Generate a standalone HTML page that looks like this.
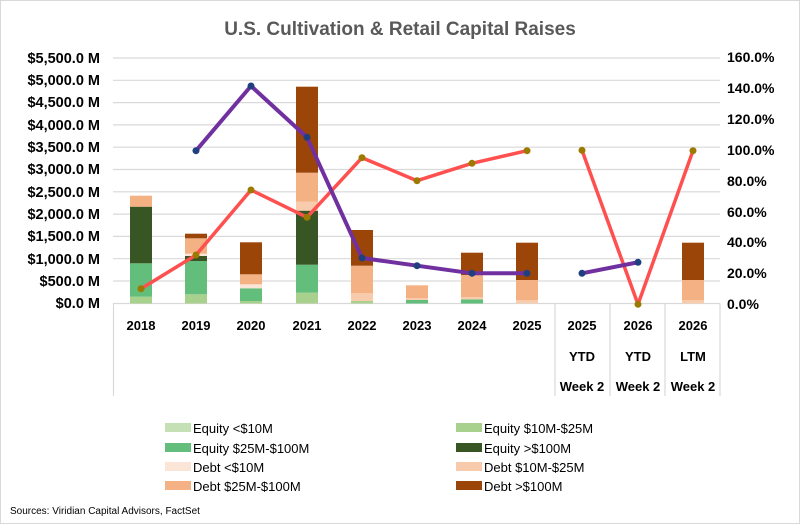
<!DOCTYPE html>
<html><head><meta charset="utf-8"><style>
body{margin:0;background:#fff}
svg{display:block;font-family:"Liberation Sans",Arial,sans-serif}
</style></head><body>
<svg width="800" height="524" viewBox="0 0 800 524" xmlns="http://www.w3.org/2000/svg">
<rect x="0.5" y="0.5" width="799" height="523" fill="#fff" stroke="#d9d9d9"/>
<text x="400" y="35" text-anchor="middle" font-size="19" font-weight="bold" fill="#595959">U.S. Cultivation &amp; Retail Capital Raises</text>
<g stroke="#d9d9d9" stroke-width="1.2">
<line x1="113" x2="720" y1="58" y2="58"/><line x1="113" x2="720" y1="80.3" y2="80.3"/><line x1="113" x2="720" y1="102.6" y2="102.6"/><line x1="113" x2="720" y1="124.9" y2="124.9"/><line x1="113" x2="720" y1="147.2" y2="147.2"/><line x1="113" x2="720" y1="169.5" y2="169.5"/><line x1="113" x2="720" y1="191.8" y2="191.8"/><line x1="113" x2="720" y1="214.1" y2="214.1"/><line x1="113" x2="720" y1="236.4" y2="236.4"/><line x1="113" x2="720" y1="258.7" y2="258.7"/><line x1="113" x2="720" y1="281" y2="281"/>
<line x1="113" x2="720" y1="303.5" y2="303.5"/>
<line x1="113.5" x2="113.5" y1="303.5" y2="396"/><line x1="555" x2="555" y1="303.5" y2="396"/><line x1="610" x2="610" y1="303.5" y2="396"/><line x1="665" x2="665" y1="303.5" y2="396"/><line x1="720" x2="720" y1="303.5" y2="396"/>
</g>
<g font-size="14.5" font-weight="bold" fill="#000" text-anchor="end">
<text x="100" y="63">$5,500.0 M</text><text x="100" y="85">$5,000.0 M</text><text x="100" y="107">$4,500.0 M</text><text x="100" y="130">$4,000.0 M</text><text x="100" y="152">$3,500.0 M</text><text x="100" y="174">$3,000.0 M</text><text x="100" y="197">$2,500.0 M</text><text x="100" y="219">$2,000.0 M</text><text x="100" y="241">$1,500.0 M</text><text x="100" y="264">$1,000.0 M</text><text x="100" y="286">$500.0 M</text><text x="100" y="308">$0.0 M</text>
</g>
<g font-size="14" font-weight="bold" fill="#000">
<text x="727" y="62">160.0%</text><text x="727" y="93">140.0%</text><text x="727" y="124">120.0%</text><text x="727" y="155">100.0%</text><text x="727" y="186">80.0%</text><text x="727" y="217">60.0%</text><text x="727" y="247">40.0%</text><text x="727" y="278">20.0%</text><text x="727" y="309">0.0%</text>
</g>
<g font-size="13" font-weight="bold" fill="#000" text-anchor="middle">
<text x="141" y="330">2018</text><text x="196" y="330">2019</text><text x="251" y="330">2020</text><text x="307" y="330">2021</text><text x="362" y="330">2022</text><text x="417" y="330">2023</text><text x="472" y="330">2024</text><text x="527" y="330">2025</text>
<text x="582" y="330">2025</text><text x="638" y="330">2026</text><text x="693" y="330">2026</text>
<text x="582" y="361">YTD</text><text x="638" y="361">YTD</text><text x="693" y="361">LTM</text>
<text x="582" y="391">Week 2</text><text x="638" y="391">Week 2</text><text x="693" y="391">Week 2</text>
</g>
<g>
<rect x="130" y="296.7" width="22" height="6.8" fill="#a9d18e"/>
<rect x="130" y="263.3" width="22" height="33.4" fill="#63be7b"/>
<rect x="130" y="206.7" width="22" height="56.6" fill="#375623"/>
<rect x="130" y="195.7" width="22" height="11" fill="#f4b183"/>
<rect x="185" y="294.3" width="22" height="9.2" fill="#a9d18e"/>
<rect x="185" y="261" width="22" height="33.3" fill="#63be7b"/>
<rect x="185" y="256" width="22" height="5" fill="#375623"/>
<rect x="185" y="253.7" width="22" height="2.3" fill="#fbe5d6"/>
<rect x="185" y="238.3" width="22" height="15.4" fill="#f4b183"/>
<rect x="185" y="233.7" width="22" height="4.6" fill="#9c4509"/>
<rect x="240" y="301" width="22" height="2.5" fill="#a9d18e"/>
<rect x="240" y="288.3" width="22" height="12.7" fill="#63be7b"/>
<rect x="240" y="284.3" width="22" height="4" fill="#fbe5d6"/>
<rect x="240" y="274.3" width="22" height="10" fill="#f4b183"/>
<rect x="240" y="242.3" width="22" height="32" fill="#9c4509"/>
<rect x="296" y="292.7" width="22" height="10.8" fill="#a9d18e"/>
<rect x="296" y="264.7" width="22" height="28" fill="#63be7b"/>
<rect x="296" y="210.7" width="22" height="54" fill="#375623"/>
<rect x="296" y="201.7" width="22" height="9" fill="#f8cbad"/>
<rect x="296" y="172.7" width="22" height="29" fill="#f4b183"/>
<rect x="296" y="86.7" width="22" height="86" fill="#9c4509"/>
<rect x="351" y="301" width="22" height="2.5" fill="#a9d18e"/>
<rect x="351" y="293.3" width="22" height="7.7" fill="#f8cbad"/>
<rect x="351" y="265.7" width="22" height="27.6" fill="#f4b183"/>
<rect x="351" y="230" width="22" height="35.7" fill="#9c4509"/>
<rect x="406" y="300" width="22" height="3.5" fill="#63be7b"/>
<rect x="406" y="298" width="22" height="2" fill="#f8cbad"/>
<rect x="406" y="285.3" width="22" height="12.7" fill="#f4b183"/>
<rect x="461" y="299.3" width="22" height="4.2" fill="#63be7b"/>
<rect x="461" y="297" width="22" height="2.3" fill="#f8cbad"/>
<rect x="461" y="275" width="22" height="22" fill="#f4b183"/>
<rect x="461" y="252.7" width="22" height="22.3" fill="#9c4509"/>
<rect x="516" y="300" width="22" height="3.5" fill="#f8cbad"/>
<rect x="516" y="280" width="22" height="20" fill="#f4b183"/>
<rect x="516" y="242.7" width="22" height="37.3" fill="#9c4509"/>
<rect x="682" y="300" width="22" height="3.5" fill="#f8cbad"/>
<rect x="682" y="280" width="22" height="20" fill="#f4b183"/>
<rect x="682" y="242.7" width="22" height="37.3" fill="#9c4509"/>
</g>
<polyline fill="none" stroke="#ff5050" stroke-width="3.5" stroke-linejoin="round" points="141,288.7 196,255 251,190 307,217.3 362,157.7 417,180.7 472,163.3 527,150.7"/>
<polyline fill="none" stroke="#ff5050" stroke-width="3.5" stroke-linejoin="round" points="582,150.3 638,304.3 693,150.7"/>
<polyline fill="none" stroke="#7030a0" stroke-width="4" stroke-linejoin="round" points="196,150.7 251,86 307,137.3 362,258 417,265.7 472,273.3 527,273.3"/>
<polyline fill="none" stroke="#7030a0" stroke-width="4" points="582,273.3 638,262.3"/>
<g fill="#9c7a00">
<circle cx="141" cy="288.7" r="3.5"/><circle cx="196" cy="255" r="3.5"/><circle cx="251" cy="190" r="3.5"/><circle cx="307" cy="217.3" r="3.5"/><circle cx="362" cy="157.7" r="3.5"/><circle cx="417" cy="180.7" r="3.5"/><circle cx="472" cy="163.3" r="3.5"/><circle cx="527" cy="150.7" r="3.5"/><circle cx="582" cy="150.3" r="3.5"/><circle cx="638" cy="304.3" r="3.5"/><circle cx="693" cy="150.7" r="3.5"/>
</g>
<g fill="#1f3f7f">
<circle cx="196" cy="150.7" r="3.5"/><circle cx="251" cy="86" r="3.5"/><circle cx="307" cy="137.3" r="3.5"/><circle cx="362" cy="258" r="3.5"/><circle cx="417" cy="265.7" r="3.5"/><circle cx="472" cy="273.3" r="3.5"/><circle cx="527" cy="273.3" r="3.5"/><circle cx="582" cy="273.3" r="3.5"/><circle cx="638" cy="262.3" r="3.5"/>
</g>
<g font-size="13" fill="#000">
<rect x="165" y="423" width="26" height="9" fill="#c5e0b4"/><text x="193" y="433">Equity &lt;$10M</text>
<rect x="165" y="443" width="26" height="9" fill="#63be7b"/><text x="193" y="453">Equity $25M-$100M</text>
<rect x="165" y="462" width="26" height="9" fill="#fbe5d6"/><text x="193" y="472">Debt &lt;$10M</text>
<rect x="165" y="481" width="26" height="9" fill="#f4b183"/><text x="193" y="491">Debt $25M-$100M</text>
<rect x="456" y="423" width="26" height="9" fill="#a9d18e"/><text x="484" y="433">Equity $10M-$25M</text>
<rect x="456" y="443" width="26" height="9" fill="#375623"/><text x="484" y="453">Equity &gt;$100M</text>
<rect x="456" y="462" width="26" height="9" fill="#f8cbad"/><text x="484" y="472">Debt $10M-$25M</text>
<rect x="456" y="481" width="26" height="9" fill="#9c4509"/><text x="484" y="491">Debt &gt;$100M</text>
</g>
<text x="10" y="514" font-size="10" fill="#000">Sources: Viridian Capital Advisors, FactSet</text>
</svg>
</body></html>
